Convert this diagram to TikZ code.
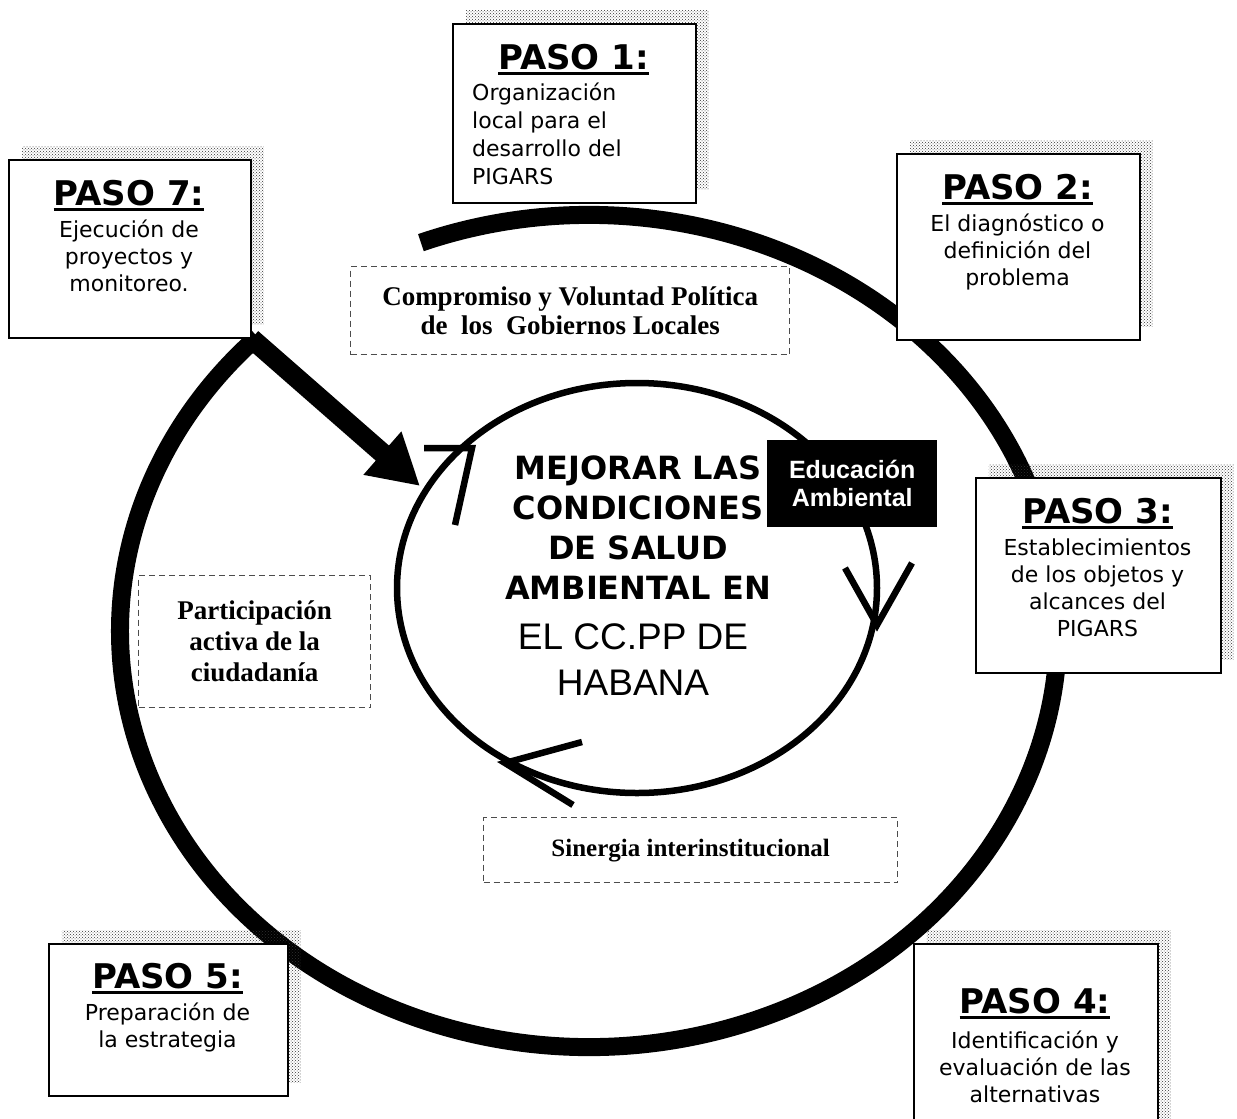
\documentclass[tikz,border=0pt]{standalone}
\usepackage{fontspec}
\setmainfont{DejaVu Sans}
\newfontfamily\timesfont{Liberation Serif}
\newfontfamily\arialfont{Liberation Sans}
\usetikzlibrary{arrows.meta,patterns,shadows,calc}

% thick underline for the step headings
\newcommand{\pasoul}[1]{\setbox0=\hbox{#1}\rlap{\rule[-6pt]{\wd0}{2.8pt}}\box0}

\tikzset{
  ring/.style={line width=18pt, line cap=butt},
  innerline/.style={line width=6.5pt, line cap=butt, line join=miter},
  bigarrow/.style={line width=20pt, -{Triangle[length=50pt 0 0, width=54pt 0 0]}},
  pasobox/.style={draw=black, line width=1.6pt, fill=white, anchor=north west, inner sep=0pt,
    general shadow={shadow xshift=13pt, shadow yshift=13pt, draw=none, pattern=crosshatch dots, pattern color=black!80}},
  pasohead/.style={font=\fontsize{34}{38}\selectfont\bfseries, anchor=base, inner sep=0pt},
  pasobody/.style={font=\fontsize{22}{27}\selectfont, align=center, anchor=north, inner sep=0pt},
  dbox/.style={draw=black!70, line width=1.3pt, dash pattern=on 6pt off 4pt, anchor=north west, inner sep=0pt,
    align=center, font=\timesfont\bfseries\fontsize{27}{29}\selectfont},
}

\begin{document}
\begin{tikzpicture}[x=1pt,y=-1pt]
\useasboundingbox (0,0) rectangle (1237,1119);
\fill[white] (0,0) rectangle (1237,1119);

% outer cycle
\coordinate (oc) at (589,631);
\draw[ring] ($(oc)+(249:469 and 416)$) arc[start angle=249, end angle=585, x radius=469, y radius=416];

% inner cycle
\coordinate (icc) at (637,588);
\draw[innerline] (icc) ellipse[x radius=240, y radius=205];

% open arrow heads on the inner cycle
\coordinate (ah1t) at (472,448);
\coordinate (ah1a) at (424,448);
\coordinate (ah1b) at (455,525);
\draw[innerline] (ah1a) -- (ah1t) -- (ah1b);
\coordinate (ah2t) at (877,625);
\coordinate (ah2a) at (845,568);
\coordinate (ah2b) at (912,563);
\draw[innerline] (ah2a) -- (ah2t) -- (ah2b);
\coordinate (ah3t) at (505,763);
\coordinate (ah3a) at (582,742);
\coordinate (ah3b) at (573,805);
\draw[innerline] (ah3a) -- (ah3t) -- (ah3b);

% central goal
\node[anchor=north, font=\bfseries\fontsize{32}{40}\selectfont, align=center, inner sep=0pt] (goal) at (638,456)
  {MEJORAR LAS\\CONDICIONES\\DE SALUD\\AMBIENTAL EN};
\node[anchor=north, font=\arialfont\fontsize{37}{46}\selectfont, align=center, inner sep=0pt] (place) at (633,623)
  {EL CC.PP DE\\HABANA};

\node[fill=black, text=white, minimum width=170, minimum height=87, anchor=north west, inner sep=0pt,
  align=center, font=\arialfont\bfseries\fontsize{25}{28}\selectfont] (edu) at (767,440) {Educación\\Ambiental};

% dashed labels
\node[dbox, minimum width=439, minimum height=88] (cmp) at (350,266)
  {Compromiso y Voluntad Política\\de~~los~~Gobiernos Locales};
\node[dbox, minimum width=232, minimum height=132, font=\timesfont\bfseries\fontsize{27}{31}\selectfont] (par) at (138,575)
  {Participación\\activa de la\\ciudadanía};
\node[dbox, minimum width=414, minimum height=65, font=\timesfont\bfseries\fontsize{25}{28}\selectfont] (sin) at (483,817)
  {Sinergia interinstitucional};

% step boxes
\node[pasobox, minimum width=243, minimum height=179] (p1) at (452,23) {};
\node[pasohead] (p1h) at (573.5,69) {\pasoul{PASO 1:}};
\node[pasobody, anchor=north west, align=left, font=\fontsize{22}{28}\selectfont] (p1b) at (472,82.5)
  {Organización\\local para el\\desarrollo del\\PIGARS};

\node[pasobox, minimum width=242, minimum height=178] (p7) at (8,159) {};
\node[pasohead] (p7h) at (129,205) {\pasoul{PASO 7:}};
\node[pasobody] (p7b) at (129,219.5) {Ejecución de\\proyectos y\\monitoreo.};

\node[pasobox, minimum width=243, minimum height=186] (p2) at (896,153) {};
\node[pasohead] (p2h) at (1017.5,199) {\pasoul{PASO 2:}};
\node[pasobody] (p2b) at (1017.5,213.5) {El diagnóstico o\\definición del\\problema};

\node[pasobox, minimum width=245, minimum height=195] (p3) at (975,477) {};
\node[pasohead] (p3h) at (1097.5,523) {\pasoul{PASO 3:}};
\node[pasobody] (p3b) at (1097.5,538.5) {Establecimientos\\de los objetos y\\alcances del\\PIGARS};

\node[pasobox, minimum width=239, minimum height=152] (p5) at (48,943) {};
\node[pasohead] (p5h) at (167.5,988) {\pasoul{PASO 5:}};
\node[pasobody] (p5b) at (167.5,1002.5) {Preparación de\\la estrategia};

\node[pasobox, minimum width=244, minimum height=200] (p4) at (913,943) {};
\node[pasohead] (p4h) at (1035,1013) {\pasoul{PASO 4:}};
\node[pasobody] (p4b) at (1035,1030.5) {Identificación y\\evaluación de las\\alternativas};

% step 7 feeds back into the inner cycle
\coordinate (tipA) at (420,486);
\draw[bigarrow] (p7.south east) -- (tipA);
\end{tikzpicture}
\end{document}
